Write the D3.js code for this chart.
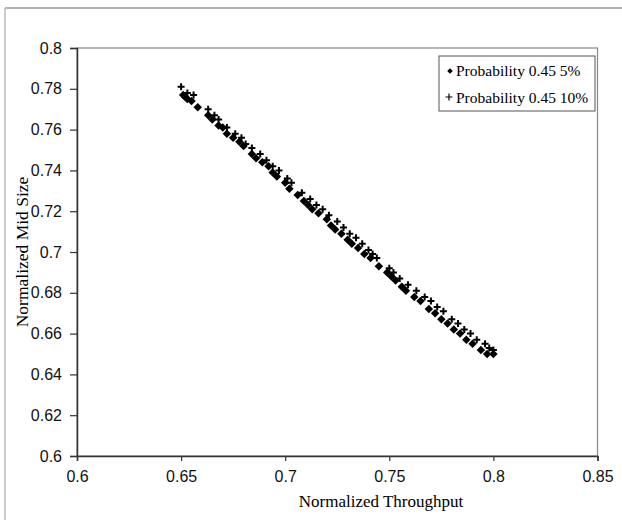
<!DOCTYPE html>
<html>
<head>
<meta charset="utf-8">
<script src="https://cdn.jsdelivr.net/npm/d3@7"></script>
<style>
  body { margin: 0; background: #fff; }
  svg { display: block; }
</style>
</head>
<body>
<div id="chart"></div>
<script>
// sèrie 1: Probability 0.45 5% (rombes)
let x5 = [0.651, 0.652, 0.653, 0.655, 0.658, 0.663, 0.665, 0.668, 0.670, 0.672, 0.675, 0.678, 0.680, 0.684,
  0.686, 0.689, 0.692, 0.694, 0.696, 0.700, 0.702, 0.706, 0.709, 0.711, 0.713, 0.716, 0.720, 0.722, 0.724,
  0.727, 0.730, 0.732, 0.735, 0.738, 0.741, 0.745, 0.749, 0.751, 0.753, 0.756, 0.758, 0.762, 0.765, 0.769,
  0.772, 0.775, 0.778, 0.781, 0.784, 0.787, 0.790, 0.794, 0.797, 0.800]
let y5 = [0.777, 0.776, 0.775, 0.774, 0.771, 0.767, 0.765, 0.762, 0.761, 0.758, 0.756, 0.754, 0.752, 0.748,
  0.746, 0.744, 0.742, 0.739, 0.737, 0.734, 0.731, 0.728, 0.725, 0.723, 0.721, 0.719, 0.716, 0.713, 0.711,
  0.709, 0.706, 0.704, 0.702, 0.699, 0.697, 0.693, 0.690, 0.688, 0.686, 0.683, 0.681, 0.678, 0.676, 0.672,
  0.670, 0.667, 0.665, 0.662, 0.660, 0.657, 0.655, 0.652, 0.650, 0.650]
// sèrie 2: Probability 0.45 10% (creus)
let x10 = [0.650, 0.653, 0.656, 0.663, 0.666, 0.668, 0.672, 0.676, 0.679, 0.681, 0.684, 0.688, 0.691, 0.694,
  0.697, 0.701, 0.703, 0.708, 0.712, 0.715, 0.718, 0.721, 0.725, 0.728, 0.731, 0.734, 0.737, 0.740, 0.742,
  0.744, 0.750, 0.752, 0.755, 0.759, 0.763, 0.767, 0.770, 0.773, 0.776, 0.780, 0.783, 0.786, 0.789, 0.792,
  0.796, 0.798, 0.800]
let y10 = [0.781, 0.778, 0.777, 0.770, 0.767, 0.765, 0.761, 0.758, 0.756, 0.753, 0.751, 0.748, 0.745, 0.742,
  0.740, 0.736, 0.734, 0.729, 0.726, 0.723, 0.721, 0.718, 0.715, 0.712, 0.709, 0.707, 0.704, 0.701, 0.699,
  0.697, 0.692, 0.690, 0.687, 0.684, 0.681, 0.678, 0.676, 0.673, 0.671, 0.667, 0.665, 0.662, 0.660, 0.657,
  0.655, 0.653, 0.652]
let xTicks = [0.6, 0.65, 0.7, 0.75, 0.8, 0.85]
let yTicks = [0.6, 0.62, 0.64, 0.66, 0.68, 0.7, 0.72, 0.74, 0.76, 0.78, 0.8]
let noms = ['Probability 0.45 5%', 'Probability 0.45 10%']

let ample = 622
let alt = 520
let esq = 77, dre = 597.5, dalt = 48, baix = 456

let svg = d3.select('#chart')
  .append('svg')
  .attr('width', ample)
  .attr('height', alt)

// marc exterior (només dalt i esquerra)
svg.append('line').attr('x1', 5).attr('x2', ample).attr('y1', 8).attr('y2', 8)
  .attr('stroke', '#999').attr('stroke-width', 1.5)
svg.append('line').attr('x1', 5).attr('x2', 5).attr('y1', 8).attr('y2', alt)
  .attr('stroke', '#bbb').attr('stroke-width', 1.5)

let x = d3.scaleLinear().domain([0.6, 0.85]).range([esq, dre])
let y = d3.scaleLinear().domain([0.6, 0.8]).range([baix, dalt])

// caixa del gràfic
svg.append('rect')
  .attr('x', esq).attr('y', dalt)
  .attr('width', dre - esq).attr('height', baix - dalt)
  .attr('fill', 'none').attr('stroke', '#888').attr('stroke-width', 1.2)

let eixX = svg.append('g')
  .attr('transform', `translate(0,${baix})`)
  .call(d3.axisBottom(x).tickValues(xTicks).tickSize(5).tickFormat(d3.format('')))
let eixY = svg.append('g')
  .attr('transform', `translate(${esq},0)`)
  .call(d3.axisLeft(y).tickValues(yTicks).tickSize(7).tickFormat(d3.format('')))

for (let e of [eixX, eixY]) {
  e.select('.domain').attr('stroke', '#333').attr('stroke-width', 1.5)
  e.selectAll('.tick line').attr('stroke', '#333').attr('stroke-width', 1.2)
  e.selectAll('.tick text')
    .attr('font-family', 'Liberation Sans, Arial, sans-serif')
    .attr('font-size', 16)
    .attr('fill', '#111')
}
eixX.selectAll('.tick text').attr('y', 26).attr('dy', null)
eixY.selectAll('.tick text').attr('x', -15)

// títols dels eixos
svg.append('text')
  .attr('x', 381).attr('y', 507)
  .attr('text-anchor', 'middle')
  .attr('font-family', 'Liberation Serif, Times New Roman, serif')
  .attr('font-size', 17)
  .text('Normalized Throughput')
svg.append('text')
  .attr('transform', `translate(28,252) rotate(-90)`)
  .attr('text-anchor', 'middle')
  .attr('font-family', 'Liberation Serif, Times New Roman, serif')
  .attr('font-size', 17.5)
  .text('Normalized Mid Size')

// punts: rombes
svg.selectAll('path.rombe')
  .data(x5)
  .enter()
  .append('path')
  .attr('class', 'rombe')
  .attr('d', d3.symbol(d3.symbolDiamond2, 46))
  .attr('transform', (d, i) => `translate(${x(d)},${y(y5[i])})`)
  .attr('fill', '#000')

// punts: creus
svg.selectAll('path.creu')
  .data(x10)
  .enter()
  .append('path')
  .attr('class', 'creu')
  .attr('d', 'M-3.5,0H3.5M0,-3.5V3.5')
  .attr('transform', (d, i) => `translate(${x(d)},${y(y10[i])})`)
  .attr('stroke', '#000')
  .attr('stroke-width', 2)
  .attr('fill', 'none')

// llegenda
let lleg = svg.append('g').attr('transform', 'translate(439,56)')
lleg.append('rect')
  .attr('width', 156).attr('height', 55)
  .attr('fill', '#fff').attr('stroke', '#555').attr('stroke-width', 1)
lleg.append('path')
  .attr('d', d3.symbol(d3.symbolDiamond2, 20))
  .attr('transform', 'translate(11,15)')
  .attr('fill', '#000')
lleg.append('path')
  .attr('d', 'M-3.5,0H3.5M0,-3.5V3.5')
  .attr('transform', 'translate(10,41)')
  .attr('stroke', '#000').attr('stroke-width', 1.2)
lleg.selectAll('text')
  .data(noms)
  .enter()
  .append('text')
  .attr('x', 17)
  .attr('y', (d, i) => 20 + i * 26.5)
  .attr('font-family', 'Liberation Serif, Times New Roman, serif')
  .attr('font-size', 15.5)
  .text((d) => d)
</script>
</body>
</html>
